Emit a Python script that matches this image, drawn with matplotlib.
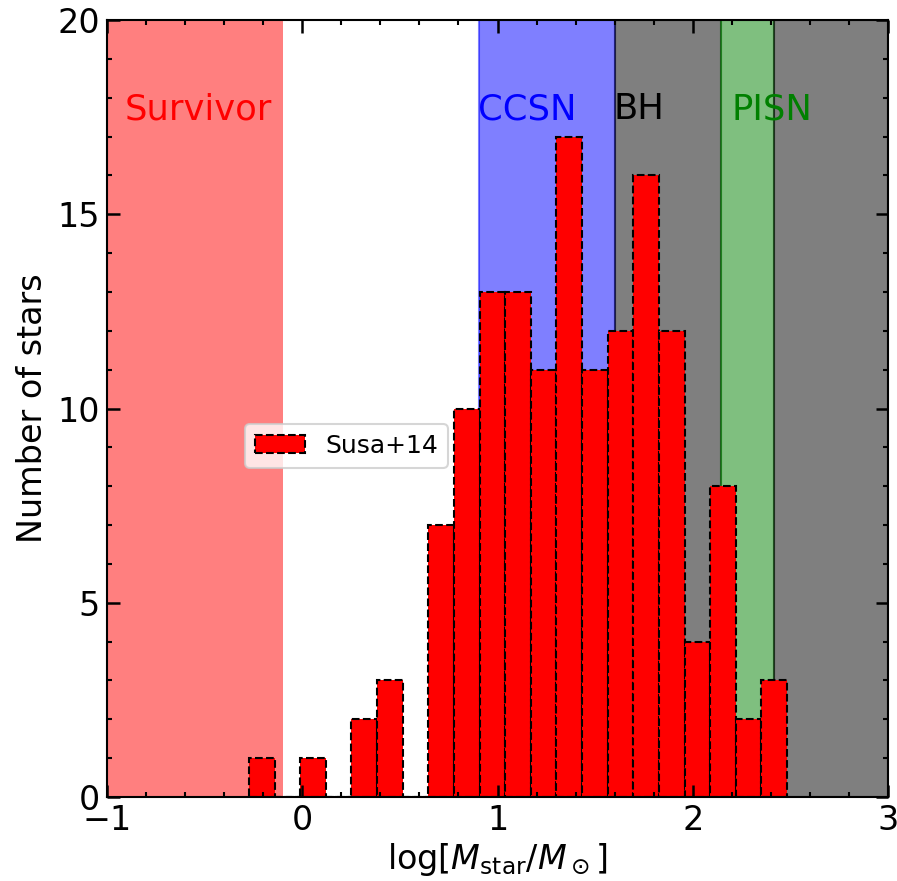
import numpy as np
import matplotlib
matplotlib.use("Agg")
import matplotlib.pyplot as plt
from matplotlib.ticker import MultipleLocator

# Histogram data (Susa+14)
bin_low = -0.273
bin_high = 2.483
counts = [1, 0, 1, 0, 2, 3, 0, 7, 10, 13, 13, 11, 17, 11, 12, 16, 12, 4, 8, 2, 3]
edges = np.linspace(bin_low, bin_high, len(counts) + 1)

# Mass regions (solar masses)
survivor_max = 0.8
ccsn_range = (8, 40)
bh_range = (40, 1000)
pisn_range = (140, 260)

xticks = [-1, 0, 1, 2, 3]
yticks = [0, 5, 10, 15, 20]

fig = plt.figure(figsize=(897 / 150, 881 / 150), dpi=150)
ax = fig.add_axes([107 / 897, 1 - 797 / 881, (888 - 107) / 897, (797 - 20) / 881])

ax.axvspan(-1, np.log10(survivor_max), color='r', alpha=0.5, linewidth=0)
ax.axvspan(np.log10(ccsn_range[0]), np.log10(ccsn_range[1]), color='b', alpha=0.5)
ax.axvspan(np.log10(bh_range[0]), np.log10(pisn_range[0]), color='k', alpha=0.5)
ax.axvspan(np.log10(pisn_range[0]), np.log10(pisn_range[1]), color='g', alpha=0.5)
ax.axvspan(np.log10(pisn_range[1]), np.log10(bh_range[1]), color='k', alpha=0.5)

ax.bar(edges[:-1], counts, width=np.diff(edges), align='edge', color='r',
       edgecolor='k', linestyle='--', linewidth=1.0, label='Susa+14')

ax.text(-0.91, 17.45, 'Survivor', color='r', fontsize=17)
ax.text(0.9, 17.45, 'CCSN', color='b', fontsize=17)
ax.text(1.595, 17.45, 'BH', color='k', fontsize=17)
ax.text(2.2, 17.45, 'PISN', color='g', fontsize=17)

ax.set_xlim(-1, 3)
ax.set_ylim(0, 20)
ax.set_xticks(xticks)
ax.set_yticks(yticks)
ax.xaxis.set_minor_locator(MultipleLocator(0.2))
ax.yaxis.set_minor_locator(MultipleLocator(1))
ax.tick_params(which='both', direction='in', top=True, right=True, labelsize=16)
ax.tick_params(which='major', length=6, width=1.2)
ax.tick_params(which='minor', length=2.5, width=1.0)
for s in ax.spines.values():
    s.set_linewidth(1.0)

ax.set_xlabel(r'log[$M_{\rm star}/M_\odot$]', fontsize=16, labelpad=2)
ax.set_ylabel('Number of stars', fontsize=16)

ax.legend(loc='center', bbox_to_anchor=(0.307, 0.452), fontsize=12)

fig.savefig('out.png', dpi=150)
